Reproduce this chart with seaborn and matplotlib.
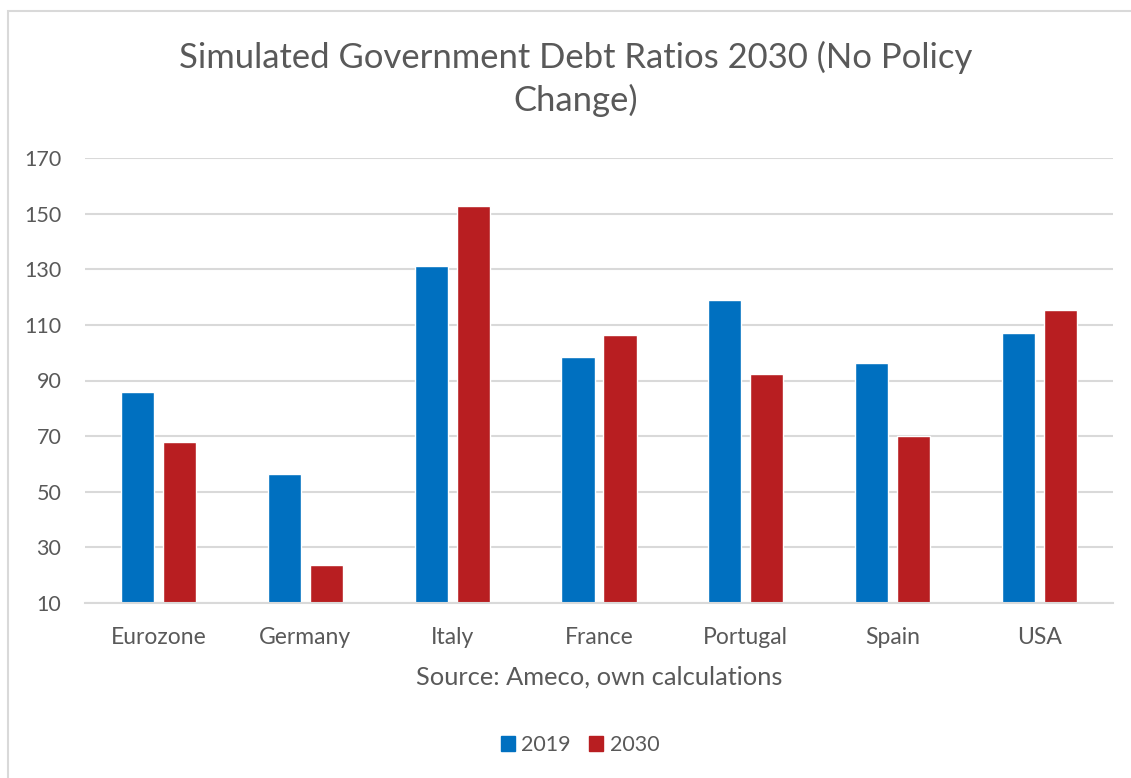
import matplotlib
matplotlib.use("Agg")
import matplotlib.pyplot as plt
import matplotlib.patches as mpatches
import seaborn as sns
import pandas as pd

countries = ["Eurozone", "Germany", "Italy", "France", "Portugal", "Spain", "USA"]
debt_2019 = [85.7, 56.5, 131.0, 98.5, 119.0, 96.2, 107.2]
debt_2030 = [68.0, 23.7, 152.7, 106.4, 92.2, 70.0, 115.2]
years = ["2019", "2030"]
yticks = [10, 30, 50, 70, 90, 110, 130, 150, 170]

df = pd.DataFrame({
    "country": countries * 2,
    "year": [years[0]] * len(countries) + [years[1]] * len(countries),
    "value": debt_2019 + debt_2030,
})

sns.set_theme(style="white")
plt.rcParams["font.family"] = ["Lato", "DejaVu Sans"]
txt = "#595959"
grid = "#d9d9d9"

fig = plt.figure(figsize=(11.31, 7.78), dpi=100)
ax = fig.add_axes([85/1131, 1-603/778, (1113-85)/1131, (603-158)/778])

sns.barplot(data=df, x="country", y="value", hue="year",
            palette={"2019": "#0070c0", "2030": "#b81e21"},
            width=0.572, gap=0.214, ax=ax, legend=False, saturation=1)

ax.set_ylim(10, 170)
ax.set_yticks(yticks)
ax.set_xlim(-0.5, len(countries) - 0.5)
ax.yaxis.grid(True, color=grid, linewidth=1.5)
ax.set_axisbelow(True)
for s in ["top", "right", "left"]:
    ax.spines[s].set_visible(False)
ax.spines["bottom"].set_color(grid)
ax.spines["bottom"].set_linewidth(1.5)
ax.tick_params(axis="both", length=0, colors=txt)
ax.tick_params(axis="y", pad=17, labelsize=15.5)
ax.tick_params(axis="x", pad=17, labelsize=16.5)
ax.set_ylabel("")
ax.set_xlabel("Source: Ameco, own calculations", color=txt, fontsize=18.3, labelpad=13)

fig.text(576/1131, 1-57/778, "Simulated Government Debt Ratios 2030 (No Policy",
         ha="center", va="center", fontsize=24.9, color=txt)
fig.text(576/1131, 1-100/778, "Change)",
         ha="center", va="center", fontsize=24.9, color=txt)

handles = [mpatches.Patch(color="#0070c0", label="2019"),
           mpatches.Patch(color="#b81e21", label="2030")]
fig.legend(handles=handles, loc="center", bbox_to_anchor=(580/1131, 1-745/778),
           ncol=2, frameon=False, fontsize=15.5, labelcolor=txt,
           handlelength=0.65, handleheight=0.65, handletextpad=0.3, columnspacing=0.85)

border = mpatches.Rectangle((8/1131, -0.1), 1.2, (778-11)/778 + 0.1,
                            transform=fig.transFigure, fill=False,
                            edgecolor="#d9d9d9", linewidth=1.5)
fig.patches.append(border)

fig.savefig("out.png", dpi=100, facecolor="white")
